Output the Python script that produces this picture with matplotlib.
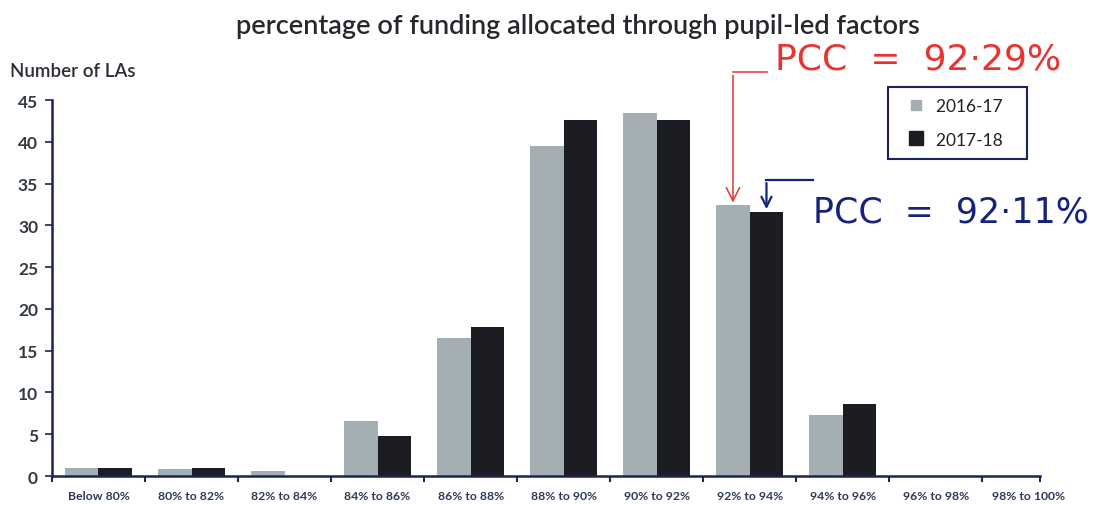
import numpy as np
import matplotlib
matplotlib.use('Agg')
import matplotlib.pyplot as plt
from matplotlib.lines import Line2D

# data
categories = ['Below 80%', '80% to 82%', '82% to 84%', '84% to 86%', '86% to 88%',
              '88% to 90%', '90% to 92%', '92% to 94%', '94% to 96%', '96% to 98%',
              '98% to 100%']
las_2016 = [0.9, 0.8, 0.6, 6.6, 16.5, 39.5, 43.5, 32.4, 7.3, 0, 0]
las_2017 = [1.0, 1.0, 0, 4.8, 17.8, 42.6, 42.6, 31.6, 8.6, 0, 0]
series_names = ['2016-17', '2017-18']
pcc_2016 = '92·29%'
pcc_2017 = '92·11%'
pcc_idx = categories.index('92% to 94%')

grey = '#a4afb3'
dark = '#1b1d22'
navy = '#1c2160'

plt.rcParams['font.family'] = ['Lato', 'DejaVu Sans']

fig = plt.figure(figsize=(10.99, 5.06), dpi=100)
ax = fig.add_axes([0.0473, 0.0573, 0.899, 0.743])

x = np.arange(len(categories))
w = 0.36
ax.bar(x - w/2, las_2016, w, color=grey)
ax.bar(x + w/2, las_2017, w, color=dark)

xmax = len(categories) - 0.88
ax.set_xlim(-0.5, xmax)
ax.set_ylim(0, 45)
ax.set_yticks(range(0, 46, 5))
ax.set_xticks(x)
ax.set_xticklabels(categories, fontsize=8.8, fontweight='bold', color='#2d3b58')
ax.set_xticks(list(np.arange(len(categories)) - 0.5) + [xmax], minor=True)
ax.tick_params(axis='x', which='major', length=0, pad=10)
ax.tick_params(axis='x', which='minor', length=4, width=1.5, color=navy, direction='out')
ax.tick_params(axis='y', length=5, width=1.2, color=navy, labelsize=12.5,
               labelcolor='#333a44', pad=5)
for lab in ax.get_yticklabels():
    lab.set_fontweight('bold')

for s in ['top', 'right']:
    ax.spines[s].set_visible(False)
for s in ['left', 'bottom']:
    ax.spines[s].set_color(navy)
    ax.spines[s].set_linewidth(1.8)

fig.text(0.526, 0.947, 'percentage of funding allocated through pupil-led factors',
         ha='center', va='center', fontsize=19.5, fontweight='semibold', color='#25282d')
fig.text(0.009, 0.858, 'Number of LAs', ha='left', va='center', fontsize=13.5,
         fontweight='semibold', color='#2a2f36')

handles = [Line2D([], [], ls='none', marker='s', ms=7, color=grey),
           Line2D([], [], ls='none', marker='s', ms=10, color=dark)]
leg = ax.legend(handles, [n + '   ' for n in series_names], loc='upper left',
                bbox_to_anchor=(0.846, 1.035), fontsize=12.5,
                handlelength=2.0, handletextpad=0.1,
                labelspacing=1.0, borderpad=0.65, fancybox=False, framealpha=1,
                edgecolor=navy, borderaxespad=0)
leg.get_frame().set_linewidth(1.5)
for t in leg.get_texts():
    t.set_color('#222')

# handwritten notes
red = '#e8332f'
blue = '#16237e'
xr = pcc_idx - w/2
top_r = 48.3
ax.plot([xr, xr + 0.37], [top_r, top_r], color=red, lw=1.1, clip_on=False)
ax.annotate('', xy=(xr, las_2016[pcc_idx]), xytext=(xr, top_r),
            arrowprops=dict(arrowstyle='->', color=red, lw=1.1,
                            mutation_scale=24), annotation_clip=False)
ax.text(xr + 0.45, 50.0, 'PCC  =  ' + pcc_2016, color=red, fontsize=26,
        family='DejaVu Sans', va='center', ha='left', clip_on=False)

xb = pcc_idx + w/2
top_b = 35.4
ax.plot([xb, xb + 0.5], [top_b, top_b], color=blue, lw=1.6)
ax.annotate('', xy=(xb, las_2017[pcc_idx]), xytext=(xb, top_b),
            arrowprops=dict(arrowstyle='->', color=blue, lw=1.6,
                            mutation_scale=18))
ax.text(xb + 0.5, 31.7, 'PCC  =  ' + pcc_2017, color=blue, fontsize=25,
        family='DejaVu Sans', va='center', ha='left', clip_on=False)

fig.savefig('out.png', dpi=100)
